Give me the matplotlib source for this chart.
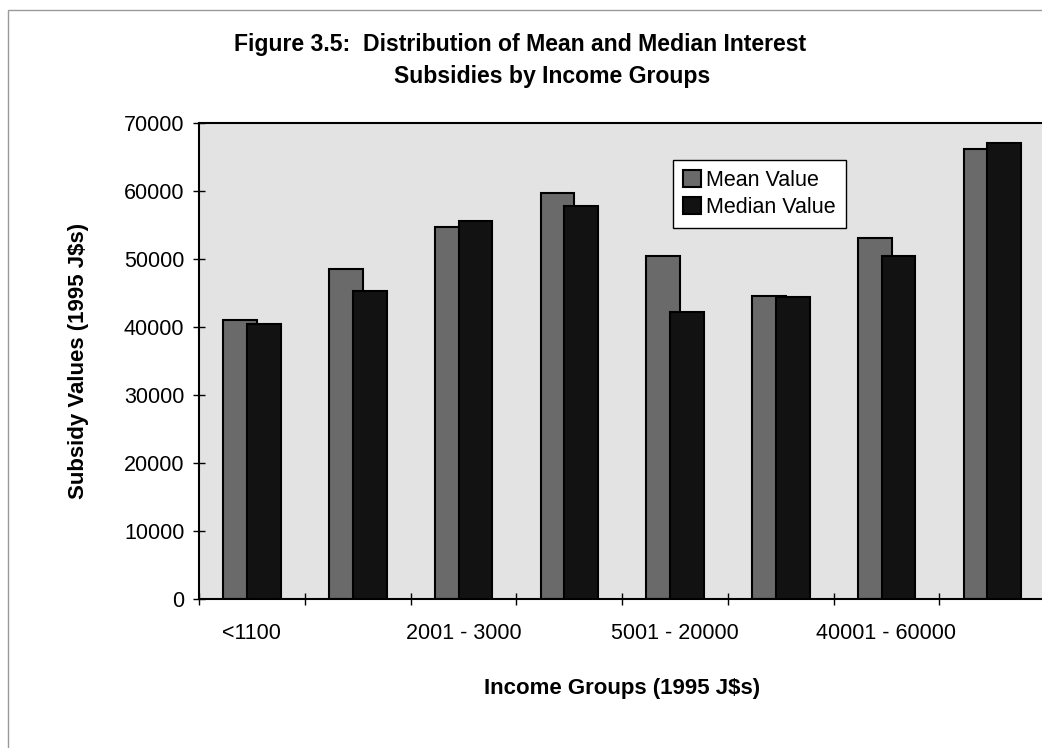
import numpy as np
import matplotlib
matplotlib.use('Agg')
import matplotlib.pyplot as plt
from matplotlib.patches import Rectangle

plt.rcParams['font.family'] = ['Liberation Sans', 'DejaVu Sans']

# income bands (1995 J$s); Excel only printed every other label
groups = ['<1100', '1101 - 2000', '2001 - 3000', '3001 - 5000',
          '5001 - 20000', '20001 - 40000', '40001 - 60000', '>60000']
mean_values = [41000, 48500, 54700, 59700, 50400, 44600, 53100, 66200]
median_values = [40400, 45300, 55600, 57800, 42200, 44400, 50500, 67100]
y_ticks = [0, 10000, 20000, 30000, 40000, 50000, 60000, 70000]

W, H = 1042, 748
fig = plt.figure(figsize=(W / 100, H / 100), dpi=100)

# chart-area border, runs off the right and bottom of the page
fig.patches.append(Rectangle((8 / W, -0.05), 1.1, 1 - 10 / H + 0.05,
                             transform=fig.transFigure, fill=False,
                             edgecolor='#9a9a9a', lw=1.0))

ax = fig.add_axes([199 / W, 1 - 599 / H, 846 / W, 476 / H])
ax.set_facecolor('#e3e3e3')

x = np.arange(len(groups))
bw = 0.32
ax.bar(x + 0.23, mean_values, width=bw, align='edge', color='#6a6a6a',
       edgecolor='black', linewidth=1.5, label='Mean Value', zorder=2)
ax.bar(x + 0.455, median_values, width=bw, align='edge', color='#121212',
       edgecolor='black', linewidth=1.5, label='Median Value', zorder=3)

ax.set_xlim(0, len(groups))
ax.set_ylim(0, 70000)
ax.set_yticks(y_ticks)
ax.set_yticklabels([str(v) for v in y_ticks])
ax.set_xticks(np.arange(len(groups) + 1))
ax.set_xticklabels([])
ax.tick_params(axis='both', direction='inout', length=9, width=1.0,
               labelsize=15.5)
ax.tick_params(axis='y', pad=6)

# only alternate group names fit under the axis
for i in range(0, len(groups), 2):
    ax.text(i + 0.5, -0.072, groups[i], transform=ax.get_xaxis_transform(),
            ha='center', va='center', fontsize=15.5)

for side in ['left', 'bottom', 'top', 'right']:
    ax.spines[side].set_linewidth(1.5)

ax.set_xlabel('Income Groups (1995 J$s)', fontsize=16, fontweight='bold',
              labelpad=49)
ax.set_ylabel('Subsidy Values (1995 J$s)', fontsize=16, fontweight='bold',
              labelpad=25)

fig.text(520 / W, 1 - 45 / H, 'Figure 3.5:  Distribution of Mean and Median Interest',
         ha='center', va='center', fontsize=16.6, fontweight='bold')
fig.text(552 / W, 1 - 77 / H, 'Subsidies by Income Groups',
         ha='center', va='center', fontsize=16.6, fontweight='bold')

leg = ax.legend(loc='upper left', bbox_to_anchor=((673 - 199) / 846, 1 - (160 - 123) / 476),
                fontsize=15.5, frameon=True, fancybox=False, shadow=False,
                handlelength=0.85, handleheight=0.85, handletextpad=0.25,
                borderpad=0.45, labelspacing=0.3, borderaxespad=0)
leg.get_frame().set_edgecolor('black')
leg.get_frame().set_linewidth(1.0)
leg.get_frame().set_facecolor('white')
leg.get_frame().set_alpha(1)

fig.savefig('out.png', dpi=100)
